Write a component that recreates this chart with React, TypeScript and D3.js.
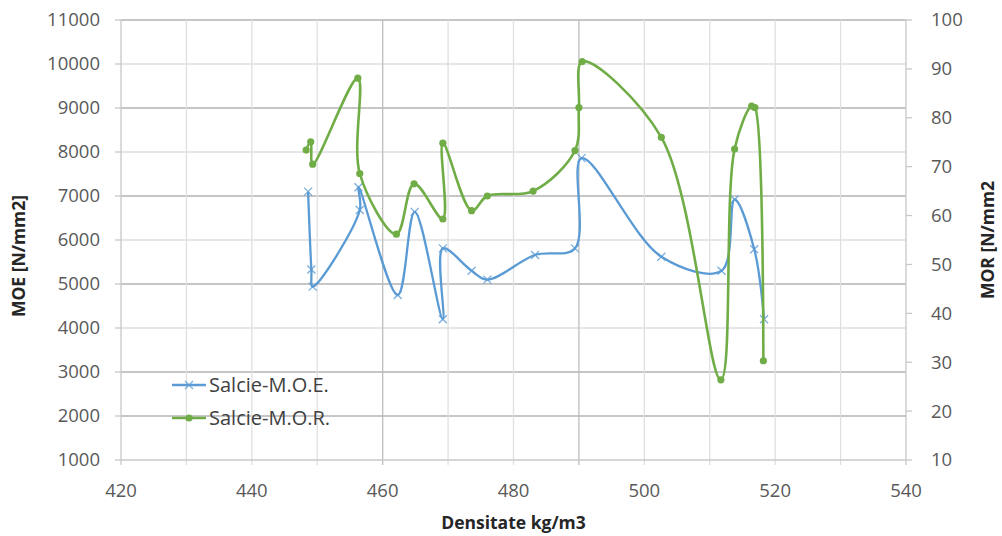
import React from "react";
import * as d3 from "d3";

const moeX = [448.6, 449.1, 449.3, 456.5, 456.3, 462.3, 464.9, 469.2, 469.2, 473.6, 476.0, 483.3, 489.4, 490.4, 502.6, 511.8, 513.8, 516.8, 518.3];
const moeY = [7100, 5330, 4940, 6680, 7200, 4750, 6640, 4200, 5810, 5300, 5100, 5660, 5810, 7860, 5620, 5300, 6920, 5790, 4200];

const morX = [448.3, 449.0, 449.3, 456.2, 456.5, 462.1, 464.8, 469.2, 469.2, 473.6, 476.0, 483.0, 489.4, 490.0, 490.5, 502.6, 511.7, 513.8, 516.4, 516.9, 518.2];
const morY = [73.4, 75.1, 70.5, 88.1, 68.6, 56.2, 66.5, 59.3, 74.8, 61.0, 64.0, 65.0, 73.3, 82.1, 91.5, 76.0, 26.4, 73.6, 82.4, 82.1, 30.3];

const xTicks = [420, 440, 460, 480, 500, 520, 540];
const xGrid = [430, 440, 450, 460, 470, 480, 490, 500, 510, 520, 530];
const leftTicks = [1000, 2000, 3000, 4000, 5000, 6000, 7000, 8000, 9000, 10000, 11000];
const rightTicks = [10, 20, 30, 40, 50, 60, 70, 80, 90, 100];

const seriesNames = ["Salcie-M.O.E.", "Salcie-M.O.R."];
const xTitle = "Densitate kg/m3";
const leftTitle = "MOE [N/mm2]";
const rightTitle = "MOR [N/mm2";

const W = 1002, H = 536;
const L = 121, R = 906, T = 20, B = 460;
const BLUE = "#5B9BD5";
const GREEN = "#70AD47";
const FONT = "'Open Sans', sans-serif";

export default function App() {
  const x = d3.scaleLinear().domain([420, 540]).range([L, R]);
  const yL = d3.scaleLinear().domain([1000, 11000]).range([B, T]);
  const yR = d3.scaleLinear().domain([10, 100]).range([B, T]);

  const moePts: [number, number][] = moeX.map((v, i) => [x(v), yL(moeY[i])]);
  const morPts: [number, number][] = morX.map((v, i) => [x(v), yR(morY[i])]);
  const line = d3.line().curve(d3.curveCatmullRom.alpha(0.5));

  const darkH = new Set([2000, 3000, 5000, 7000, 9000, 11000]);
  const darkV = new Set([460, 490]);

  const cross = (cx: number, cy: number, s: number, key: any, op = 0.8) => (
    <g key={key} stroke={BLUE} strokeWidth={1.3} opacity={op}>
      <line x1={cx - s} y1={cy - s} x2={cx + s} y2={cy + s} />
      <line x1={cx - s} y1={cy + s} x2={cx + s} y2={cy - s} />
    </g>
  );

  return (
    <svg width={W} height={H} style={{ position: "absolute", left: 0, top: 0, background: "#fff" }} fontFamily={FONT}>
      <rect width={W} height={H} fill="#fff" />
      {leftTicks.slice(1).map((t) => (
        <line key={"h" + t} x1={L} x2={R} y1={yL(t)} y2={yL(t)} stroke={darkH.has(t) ? "#b3b3b3" : "#dedede"} strokeWidth={1.3} />
      ))}
      {xGrid.map((t) => (
        <line key={"v" + t} x1={x(t)} x2={x(t)} y1={T} y2={B + 5} stroke={darkV.has(t) ? "#bdbdbd" : "#e0e0e0"} strokeWidth={1.3} />
      ))}
      <line x1={L} x2={L} y1={T} y2={B} stroke="#c8c8c8" strokeWidth={1.3} />
      <line x1={R} x2={R} y1={T} y2={B + 5} stroke="#c8c8c8" strokeWidth={1.3} />
      <line x1={L} x2={R} y1={B} y2={B} stroke="#c8c8c8" strokeWidth={1.3} />
      <line x1={L} x2={L} y1={B} y2={B + 5} stroke="#c8c8c8" strokeWidth={1.3} />
      {leftTicks.map((t) => (
        <line key={"lt" + t} x1={L - 6} x2={L} y1={yL(t)} y2={yL(t)} stroke="#c8c8c8" strokeWidth={1.3} />
      ))}
      {rightTicks.map((t) => (
        <line key={"rt" + t} x1={R} x2={R + 6} y1={yR(t)} y2={yR(t)} stroke="#c8c8c8" strokeWidth={1.3} />
      ))}
      {leftTicks.map((t) => (
        <text key={"ll" + t} x={100} y={yL(t)} dy="0.35em" textAnchor="end" fontSize={18.5} fill="#595959">{t}</text>
      ))}
      {rightTicks.map((t) => (
        <text key={"rl" + t} x={931} y={yR(t)} dy="0.35em" textAnchor="start" fontSize={18.5} fill="#595959">{t}</text>
      ))}
      {xTicks.map((t) => (
        <text key={"xl" + t} x={x(t)} y={491} dy="0.35em" textAnchor="middle" fontSize={18.5} fill="#595959">{t}</text>
      ))}
      <text x={(L + R) / 2} y={523} dy="0.35em" textAnchor="middle" fontSize={17.5} fontWeight="bold" fill="#262626">{xTitle}</text>
      <text transform={`translate(19,${(T + B) / 2 + 16}) rotate(-90)`} dy="0.35em" textAnchor="middle" fontSize={17.5} fontWeight="bold" fill="#262626">{leftTitle}</text>
      <text transform={`translate(988,${(T + B) / 2})`} dy="0.35em" textAnchor="middle" fontSize={17.5} fontWeight="bold" fill="#262626">
        <tspan transform="rotate(-90)"></tspan>
      </text>
      <text transform={`translate(988,${(T + B) / 2}) rotate(-90)`} dy="0.35em" textAnchor="middle" fontSize={17.5} fontWeight="bold" fill="#262626">{rightTitle}</text>
      <path d={line(moePts) || ""} fill="none" stroke={BLUE} strokeWidth={2.3} />
      {moePts.map((p, i) => cross(p[0], p[1], 4, "m" + i))}
      <path d={line(morPts) || ""} fill="none" stroke={GREEN} strokeWidth={2.6} />
      {morPts.map((p, i) => (
        <circle key={"c" + i} cx={p[0]} cy={p[1]} r={3.6} fill={GREEN} />
      ))}
      <line x1={172} x2={206} y1={385} y2={385} stroke={BLUE} strokeWidth={2.3} />
      {cross(189, 385, 4, "lg", 0.8)}
      <text x={209} y={385} dy="0.35em" fontSize={20} fill="#404040">{seriesNames[0]}</text>
      <line x1={172} x2={206} y1={418} y2={418} stroke={GREEN} strokeWidth={2.6} />
      <circle cx={189} cy={418} r={3.6} fill={GREEN} />
      <text x={209} y={418} dy="0.35em" fontSize={20} fill="#404040">{seriesNames[1]}</text>
    </svg>
  );
}
